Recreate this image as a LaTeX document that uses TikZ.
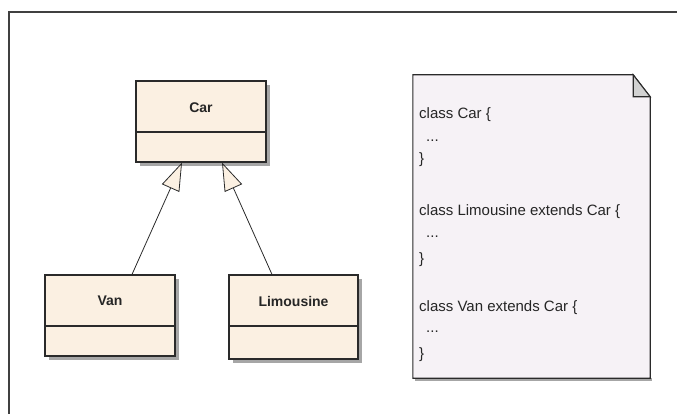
\documentclass[tikz,border=0pt]{standalone}
\usepackage{fontspec}
\setmainfont{Liberation Sans}
\usetikzlibrary{arrows.meta}
\definecolor{classfill}{HTML}{FBF0E2}
\definecolor{notefill}{HTML}{F6F2F6}
\definecolor{foldfill}{HTML}{D2D2D2}
\definecolor{edgecol}{HTML}{2A2A2A}
\definecolor{shadowcol}{HTML}{A6A6A6}
\tikzset{
  classbox/.style={draw=edgecol, line width=1.1pt, fill=classfill, inner sep=0pt},
  boxshadow/.style={fill=shadowcol, draw=none, inner sep=0pt},
  classname/.style={font=\fontsize{14}{16}\selectfont\bfseries, text=black!85, inner sep=0pt},
  codeline/.style={font=\fontsize{15}{17}\selectfont, text=black!85, anchor=west, inner sep=0pt},
  generalize/.style={draw=edgecol, line width=0.8pt,
    -{Triangle[length=28pt, width=19pt, fill=classfill, line width=0.8pt]}},
}
\begin{document}
\begin{tikzpicture}[x=1pt, y=-1pt]
\useasboundingbox (0,0) rectangle (677,414);
% outer frame
\begin{scope}
\clip (0,0) rectangle (677,414);
\draw[draw=black!75, line width=1.4pt] (9,430) -- (9,12) -- (690,12);
\end{scope}

% drop shadows of the class boxes
\node[boxshadow, minimum width=130pt, minimum height=81pt] (carshadow) at (205,125.5) {};
\node[boxshadow, minimum width=130pt, minimum height=81pt] (vanshadow) at (114,319.5) {};
\node[boxshadow, minimum width=129pt, minimum height=84pt] (limoshadow) at (297.5,321) {};

% class boxes
\node[classbox, minimum width=130pt, minimum height=81pt] (car) at (201,121.5) {};
\node[classbox, minimum width=130pt, minimum height=81pt] (van) at (110,315.5) {};
\node[classbox, minimum width=129pt, minimum height=84pt] (limo) at (293.5,317) {};

\draw[draw=edgecol, line width=1.1pt] (car.west |- 0,132) -- (car.east |- 0,132);
\draw[draw=edgecol, line width=1.1pt] (van.west |- 0,326) -- (van.east |- 0,326);
\draw[draw=edgecol, line width=1.1pt] (limo.west |- 0,326) -- (limo.east |- 0,326);

\node[classname] (carname) at (201,108) {Car};
\node[classname] (vanname) at (110,301) {Van};
\node[classname] (limoname) at (293.5,301) {Limousine};

% generalization connectors
\draw[generalize] ([xshift=22pt]van.north) -- ([xshift=-19pt]car.south);
\draw[generalize] ([xshift=-21.5pt]limo.north) -- ([xshift=21pt]car.south);

% note with folded corner
\node[inner sep=0pt, minimum width=237pt, minimum height=303pt] (note) at (531.5,226.5) {};
\fill[shadowcol] ([xshift=2pt,yshift=-2.5pt]note.south west) rectangle ([xshift=2pt]note.south east);
\draw[draw=edgecol, line width=1.1pt, fill=notefill]
  (note.north west) -- ([xshift=-17pt]note.north east) -- ([yshift=-22pt]note.north east)
  -- (note.south east) -- (note.south west) -- cycle;
\draw[draw=edgecol, line width=1.1pt, fill=foldfill]
  ([xshift=-17pt]note.north east) -- ([xshift=-17pt,yshift=-22pt]note.north east)
  -- ([yshift=-22pt]note.north east) -- cycle;

\node[codeline] (l1) at (419,115) {class Car \{};
\node[codeline] (l2) at (426,141) {...};
\node[codeline] (l3) at (419,160) {\}};
\node[codeline] (l4) at (419,212) {class Limousine extends Car \{};
\node[codeline] (l5) at (426,237) {...};
\node[codeline] (l6) at (419,260) {\}};
\node[codeline] (l7) at (419,308) {class Van extends Car \{};
\node[codeline] (l8) at (426,332) {...};
\node[codeline] (l9) at (419,355) {\}};
\end{tikzpicture}
\end{document}
